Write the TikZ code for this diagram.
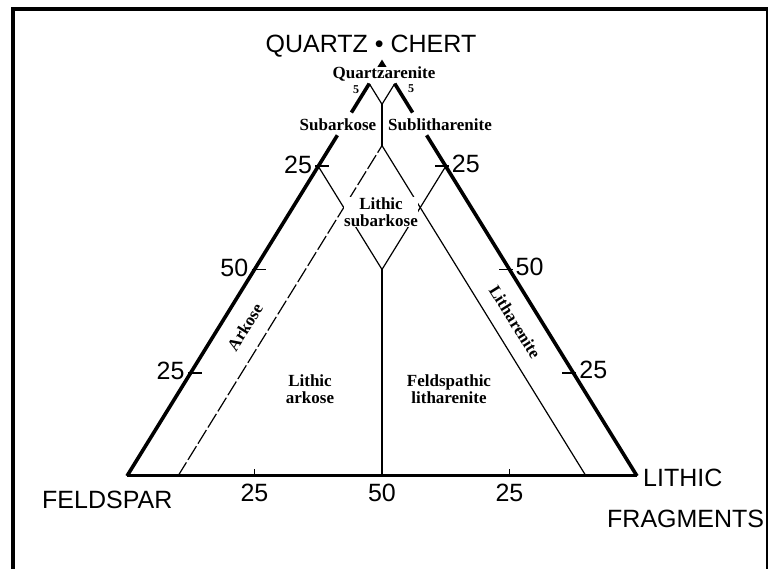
\documentclass[tikz,border=0pt]{standalone}
\usepackage{fontspec}
\setmainfont{Liberation Serif}
\setsansfont{Liberation Sans}
\usetikzlibrary{calc}

\begin{document}
\begin{tikzpicture}[
  x=1pt, y=-1pt,
  endlab/.style={font=\sffamily\fontsize{25}{28}\selectfont, inner sep=0pt},
  ticklab/.style={font=\sffamily\fontsize{25}{28}\selectfont, inner sep=0pt},
  rock/.style={font=\bfseries\fontsize{17}{17}\selectfont, inner sep=0.5pt,
               align=center},
  pct/.style={font=\bfseries\fontsize{12}{12}\selectfont, inner sep=0pt},
  side/.style={line width=3.6pt},
  baseline/.style={line width=3pt},
  fine/.style={line width=1.2pt},
  tickmark/.style={line width=1.8pt},
  frame/.style={line width=3.5pt}
]
\useasboundingbox (0,0) rectangle (772,569);

% frame
\draw[frame] (13,569) -- (13,9) -- (768,9);
\draw[line width=2.2pt] (767,9) -- (767,569);

% corners of the triangle
\coordinate (F) at (127,476);
\coordinate (Q) at (382,63);
\coordinate (L) at (637,476);
\coordinate (M) at ($(F)!.5!(L)$);
\coordinate (Fb) at ($(F)!.1!(L)$);
\coordinate (Lb) at ($(L)!.1!(F)$);
\coordinate (Vt) at ($(M)!.8!(Q)$);
\coordinate (Vb) at ($(M)!.5!(Q)$);
\coordinate (Vq) at ($(M)!.9!(Q)$);

% points on the two sides
\foreach \t/\n in {.25/a, .5/b, .75/c, .825/d, .88/e, .95/f, .98/g} {
  \coordinate (fq\n) at ($(F)!\t!(Q)$);
  \coordinate (lq\n) at ($(L)!\t!(Q)$);
}

% sides and base
\draw[side] (F) -- (fqd);
\draw[side] (fqe) -- (fqf);
\draw[side] (L) -- (lqd);
\draw[side] (lqe) -- (lqf);
\draw[side, line join=miter] (fqg) -- (Q) -- (lqg);
\draw[baseline] (F) -- (L);

% field boundaries
\draw[fine] (fqf) -- (Vq) -- (lqf);
\draw[fine] (Vq) -- (Vt);
\draw[fine, dash pattern=on 16pt off 3pt] (Fb) -- (Vt);
\draw[fine] (Vt) -- (Lb);
\draw[fine] (fqc) -- (Vb) -- (lqc);
\draw[fine] (Vb) -- (M);

% ticks and numbers
\foreach \n/\lab in {a/25, b/50, c/25} {
  \draw[tickmark] ($(fq\n)+(-3,0)$) -- ++(14,0);
  \draw[tickmark] ($(lq\n)+(3,0)$) -- ++(-14,0);
  \node[ticklab, anchor=base east] (nf\n) at ($(fq\n)+(-6,7)$) {\lab};
  \node[ticklab, anchor=base west] (nl\n) at ($(lq\n)+(6,6)$) {\lab};
}
\foreach \t/\n/\lab in {.25/a/25, .5/b/50, .75/c/25} {
  \coordinate (fl\n) at ($(F)!\t!(L)$);
  \node[ticklab, anchor=base] (nb\n) at ($(fl\n)+(0,26)$) {\lab};
}
\draw[tickmark] (fla) -- ++(0,-7);
\draw[tickmark] (flc) -- ++(0,-7);

% end members
\node[endlab, anchor=base] (qz) at (371,53) {QUARTZ • CHERT};
\node[endlab, anchor=base west] (fs) at (42,508) {FELDSPAR};
\node[endlab, anchor=base west] (lt) at (643,487) {LITHIC};
\node[endlab, anchor=base west] (fr) at (607,527) {FRAGMENTS};

% rock names
\node[rock, anchor=base, fill=white] (qa) at (384,79) {Quartzarenite};
\node[pct] (p5l) at (356,90) {5};
\node[pct] (p5r) at (411,89) {5};
\node[rock, anchor=base] (sa) at (338,131) {Subarkose};
\node[rock, anchor=base] (sl) at (440,131) {Sublitharenite};
\node[rock, fill=white] (ls) at (381,212) {Lithic\\subarkose};
\node[rock] (la) at (310,389) {Lithic\\arkose};
\node[rock] (fl) at (449,389) {Feldspathic\\litharenite};
\node[rock, rotate=58] (ak) at (245,327) {Arkose};
\node[rock, rotate=-58] (lh) at (515,322) {Litharenite};
\end{tikzpicture}
\end{document}
